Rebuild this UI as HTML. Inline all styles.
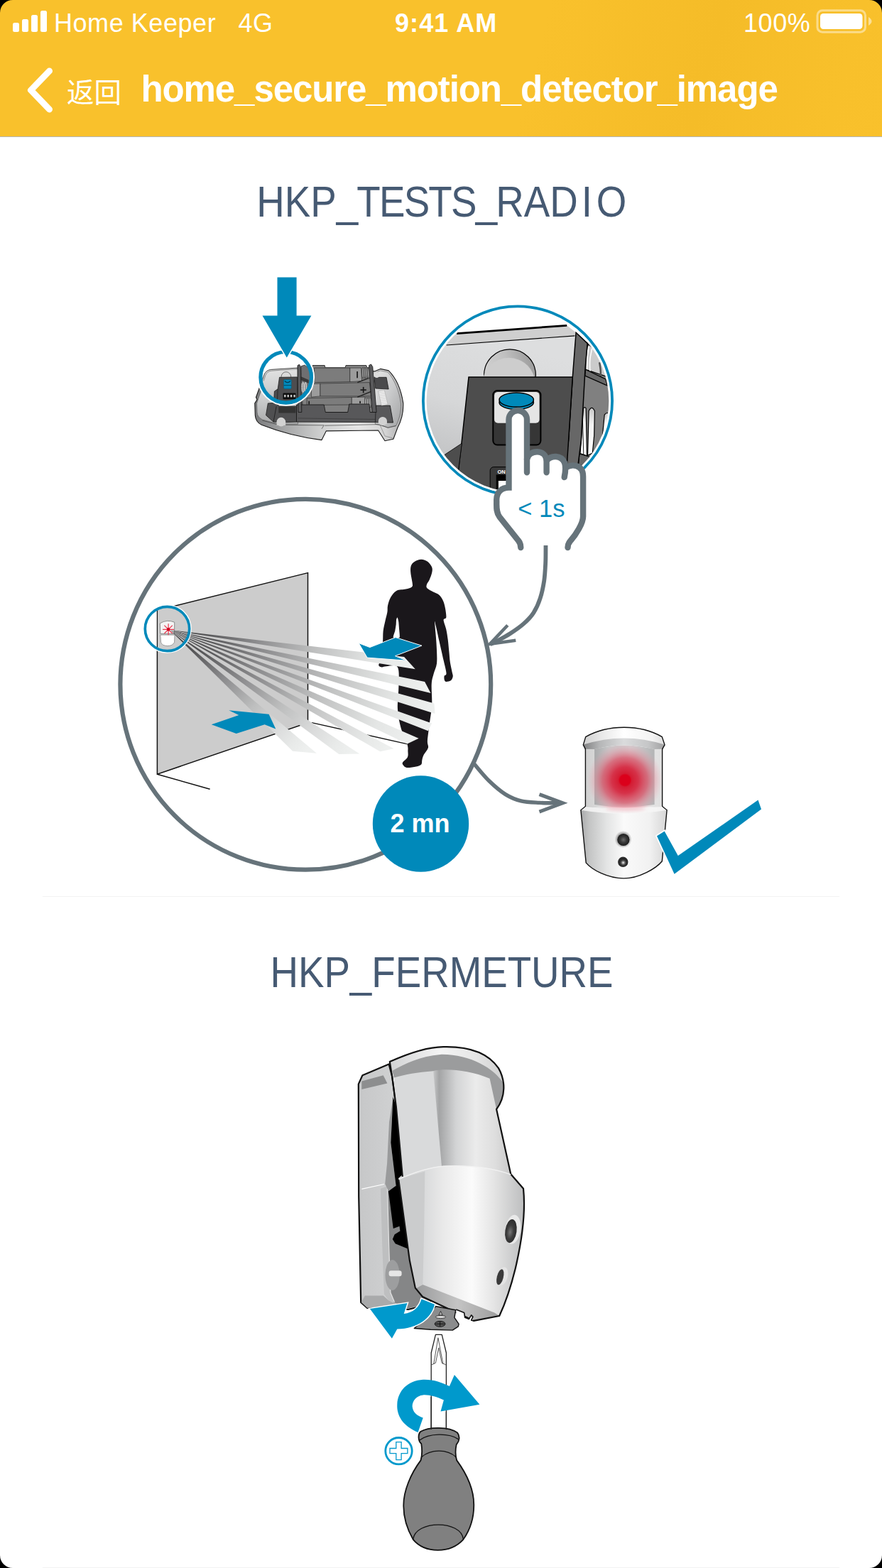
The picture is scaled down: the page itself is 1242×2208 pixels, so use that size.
<!DOCTYPE html>
<html lang="zh">
<head>
<meta charset="utf-8">
<title>home_secure_motion_detector_image</title>
<style>
html,body{margin:0;padding:0;}
html{width:1242px;height:2208px;overflow:hidden;}
body{width:1242px;height:2208px;position:relative;overflow:hidden;background:#fff;font-family:"Liberation Sans","Noto Sans CJK SC",sans-serif;}
.hdr{position:absolute;left:0;top:0;width:1242px;height:192px;background:#f9c12c linear-gradient(105deg,#f9c12c 0%,#f9c12c 60%,#f5bc28 79%,#f8c02b 94%,#f9c12c 100%);border-bottom:1px solid #b4b4b4;}
.st{position:absolute;top:11px;height:44px;line-height:44px;font-size:36px;color:#fff;white-space:nowrap;letter-spacing:0.55px;}
.title{position:absolute;left:198.5px;top:93px;height:66px;line-height:66px;font-size:51px;font-weight:bold;color:#fff;white-space:nowrap;letter-spacing:-1.1px;}
.back{position:absolute;left:94px;top:98px;height:66px;line-height:66px;font-size:38.5px;color:#fff;white-space:nowrap;}
.h{position:absolute;left:1px;width:1242px;text-align:center;font-size:61.8px;transform:scaleX(0.885);transform-origin:621px 50%;color:#465a73;white-space:nowrap;height:80px;line-height:80px;}
.sep{position:absolute;left:60px;width:1122px;height:1px;background:#f3f3f3;}
.art{position:absolute;left:0;top:0;width:1242px;height:2208px;}

</style>
</head>
<body>
<div class="hdr">
  <svg style="position:absolute;left:0;top:0" width="1242" height="192" viewBox="0 0 1242 192">
    <g fill="#fff">
      <rect x="18" y="32" width="9" height="13" rx="2.5"/>
      <rect x="31" y="27" width="9" height="18" rx="2.5"/>
      <rect x="44" y="21" width="9" height="24" rx="2.5"/>
      <rect x="57" y="15" width="9" height="30" rx="2.5"/>
    </g>
    <rect x="1151" y="14.8" width="67.5" height="30.4" rx="7" fill="none" stroke="#fff" stroke-opacity="0.45" stroke-width="3"/>
    <rect x="1155" y="19" width="59.5" height="22" rx="4.5" fill="#fff"/>
    <path d="M1223 24 q4.5 3 4.5 6 q0 3 -4.5 6 z" fill="#fff" fill-opacity="0.5"/>
    <path d="M69.5 100 L43.5 127 L69.5 154" fill="none" stroke="#fff" stroke-width="9" stroke-linecap="round" stroke-linejoin="round"/>
  </svg>
  <div class="st" style="left:76px">Home Keeper</div>
  <div class="st" style="left:335.5px">4G</div>
  <div class="st" style="left:556px;font-weight:bold;letter-spacing:1.1px">9:41 AM</div>
  <div class="st" style="left:1047px">100%</div>
  <div class="back">返回</div>
  <div class="title">home_secure_motion_detector_image</div>
</div>
<svg class="art" viewBox="0 0 1242 2208"><text id="h1" transform="translate(361.2 304.6) scale(0.885 1)" x="0" y="0" dx="0 0 0 0 -2 -2 -2 -2 -2 -2 -2 0 0 5.5 6.5" font-family="'Liberation Sans',sans-serif" font-size="61.8" fill="#465a73">HKP_TESTS_RADIO</text></svg>
<div class="sep" style="top:1262px"></div>
<div class="h" id="h2" style="top:1328.7px">HKP_FERMETURE</div>
<div class="sep" style="top:2207px"></div>
<svg class="art" viewBox="0 0 1242 2208">
<defs><filter id="blur2" x="-50%" y="-50%" width="200%" height="200%"><feGaussianBlur stdDeviation="2.5"/></filter></defs>
<defs>
<linearGradient id="bmA" gradientUnits="userSpaceOnUse" x1="239.5" y1="887.2" x2="577" y2="933.6"><stop offset="0" stop-color="#343436"/><stop offset="0.13" stop-color="#505052"/><stop offset="0.35" stop-color="#8a8a8c"/><stop offset="0.6" stop-color="#bebfbf"/><stop offset="0.85" stop-color="#e4e6e5"/><stop offset="1" stop-color="#eef0ef"/></linearGradient>
<linearGradient id="bmB" gradientUnits="userSpaceOnUse" x1="239.5" y1="887.2" x2="602.3" y2="968"><stop offset="0" stop-color="#343436"/><stop offset="0.13" stop-color="#505052"/><stop offset="0.35" stop-color="#8a8a8c"/><stop offset="0.6" stop-color="#bebfbf"/><stop offset="0.85" stop-color="#e4e6e5"/><stop offset="1" stop-color="#eef0ef"/></linearGradient>
<linearGradient id="bmC" gradientUnits="userSpaceOnUse" x1="239.5" y1="887.2" x2="612" y2="997.9"><stop offset="0" stop-color="#343436"/><stop offset="0.13" stop-color="#505052"/><stop offset="0.35" stop-color="#8a8a8c"/><stop offset="0.6" stop-color="#bebfbf"/><stop offset="0.85" stop-color="#e4e6e5"/><stop offset="1" stop-color="#eef0ef"/></linearGradient>
<linearGradient id="bmD" gradientUnits="userSpaceOnUse" x1="239.5" y1="887.2" x2="605.5" y2="1024"><stop offset="0" stop-color="#343436"/><stop offset="0.13" stop-color="#505052"/><stop offset="0.35" stop-color="#8a8a8c"/><stop offset="0.6" stop-color="#bebfbf"/><stop offset="0.85" stop-color="#e4e6e5"/><stop offset="1" stop-color="#eef0ef"/></linearGradient>
<linearGradient id="bmE" gradientUnits="userSpaceOnUse" x1="239.5" y1="887.2" x2="581.5" y2="1043.7"><stop offset="0" stop-color="#343436"/><stop offset="0.13" stop-color="#505052"/><stop offset="0.35" stop-color="#8a8a8c"/><stop offset="0.6" stop-color="#bebfbf"/><stop offset="0.85" stop-color="#e4e6e5"/><stop offset="1" stop-color="#eef0ef"/></linearGradient>
<linearGradient id="bmF" gradientUnits="userSpaceOnUse" x1="239.5" y1="887.2" x2="545" y2="1056.2"><stop offset="0" stop-color="#343436"/><stop offset="0.15" stop-color="#505052"/><stop offset="0.4" stop-color="#8c8c8e"/><stop offset="0.62" stop-color="#bdbebe"/><stop offset="0.8" stop-color="#dadbdb"/><stop offset="0.92" stop-color="#e8eae9"/><stop offset="1" stop-color="#eef0ef"/></linearGradient>
<linearGradient id="bmG" gradientUnits="userSpaceOnUse" x1="239.5" y1="887.2" x2="491.8" y2="1061.7"><stop offset="0" stop-color="#343436"/><stop offset="0.15" stop-color="#505052"/><stop offset="0.4" stop-color="#8c8c8e"/><stop offset="0.62" stop-color="#bdbebe"/><stop offset="0.8" stop-color="#dadbdb"/><stop offset="0.92" stop-color="#e8eae9"/><stop offset="1" stop-color="#eef0ef"/></linearGradient>
<linearGradient id="bmH" gradientUnits="userSpaceOnUse" x1="239.5" y1="887.2" x2="429" y2="1059.2"><stop offset="0" stop-color="#343436"/><stop offset="0.15" stop-color="#505052"/><stop offset="0.4" stop-color="#8c8c8e"/><stop offset="0.62" stop-color="#bdbebe"/><stop offset="0.8" stop-color="#dadbdb"/><stop offset="0.92" stop-color="#e8eae9"/><stop offset="1" stop-color="#eef0ef"/></linearGradient>
<clipPath id="bigc"><circle cx="430.2" cy="962.2" r="262"/></clipPath>
</defs>
<g id="scene">
<circle cx="430.3" cy="963.8" r="260.9" fill="#fff" stroke="#66737a" stroke-width="6.2"/>
<polygon points="221.4,859.4 433.5,806.6 433.5,1017.6 221.4,1090.2" fill="#cccccc" stroke="#111" stroke-width="1.5" stroke-linejoin="miter"/>
<path d="M221.4 1090.2 L295.6 1111.2" stroke="#111" stroke-width="1.5" fill="none"/>
<path d="M439 1017.6 L573 1047.6" stroke="#111" stroke-width="1.4" fill="none"/>
<path d="M593.2 787.7 C596.4 787.7 599.9 789 602.4 790.9 C604.9 792.7 607.2 796.2 608.2 798.8 C609.2 801.5 608.8 803.7 608.2 806.6 C607.6 809.5 606 813.5 604.8 816.2 C603.6 819 601.5 821 601 823 C600.4 825 599.9 826.5 601.4 828.3 C603 830.1 607.3 832 610.1 833.6 C613 835.2 616.3 835.8 618.6 838 C620.9 840.1 622.7 843.2 624.2 846.4 C625.6 849.6 626.4 853.5 627.1 857.3 C627.7 861.1 628.7 866.8 628.3 869.4 C627.9 872 624.6 870.2 624.6 873 C624.6 875.8 627.3 881.7 628.3 886.3 C629.3 890.9 630 895.5 630.7 900.8 C631.4 906 631.8 912.4 632.4 917.7 C632.9 922.9 633.1 927.3 633.8 932.2 C634.5 937 636.1 943.2 636.7 946.7 C637.4 950.1 638 950.8 637.7 952.7 C637.4 954.6 636.4 957.1 634.8 958.3 C633.2 959.5 629.8 960.1 628.3 960 C626.8 959.8 626.3 958.9 625.8 957.5 C625.4 956.2 625.2 953.6 625.6 952 C626 950.4 628.7 951.6 628.5 947.9 C628.3 944.2 626.3 937.2 624.6 929.8 C623 922.3 620.4 911.2 618.6 903.2 C616.8 895.1 614.9 886.1 613.8 881.4 C612.7 876.8 612.1 873 612.1 875.4 C612.1 877.8 613.3 889.3 613.8 895.9 C614.3 902.6 614.8 908.8 615 915.3 C615.2 921.7 615.7 929 615 934.6 C614.3 940.2 611.8 944.3 610.6 949.1 C609.4 953.9 608.1 956.3 607.7 963.6 C607.3 970.8 608.7 983.3 608.2 992.6 C607.7 1001.8 605.9 1010.7 604.8 1019.1 C603.8 1027.6 602.3 1037.6 601.9 1043.3 C601.6 1048.9 603.7 1049.7 602.9 1052.9 C602.1 1056.2 598.3 1059.8 596.9 1062.6 C595.5 1065.4 595 1067.5 594.4 1069.9 C593.8 1072.2 594.6 1075 593.2 1076.6 C591.8 1078.2 589.4 1078.8 586 1079.5 C582.6 1080.2 575.7 1081.3 572.7 1081 C569.7 1080.6 568.8 1078.8 567.9 1077.6 C566.9 1076.3 566.1 1075.4 567.1 1073.5 C568.2 1071.6 572.7 1068.8 573.9 1066.2 C575.1 1063.6 574.5 1060.8 574.4 1057.8 C574.3 1054.8 575.1 1053.8 573.4 1048.1 C571.7 1042.5 566.5 1032.4 564.3 1024 C562 1015.5 560.4 1007.1 559.9 997.4 C559.4 987.7 561.4 975.7 561.4 966 C561.4 956.3 562.7 944 559.9 939.4 C557.1 934.8 548.1 938.2 544.4 938.2 C540.7 938.2 539.5 939.6 537.7 939.4 C535.8 939.2 533.7 938.6 533.3 937 C532.9 935.4 534.3 935 535.3 929.8 C536.2 924.5 538.2 912.4 538.9 905.6 C539.6 898.8 539 893.9 539.6 888.7 C540.2 883.5 541.5 878.6 542.5 874.2 C543.5 869.8 544.8 865.7 545.4 862.1 C546 858.5 545.3 856 546.1 852.5 C546.9 848.9 548.2 844.3 550.2 840.9 C552.3 837.4 554.7 833.8 558.2 831.9 C561.8 830 567.9 830.4 571.5 829.5 C575.1 828.6 578.4 827.8 580 826.4 C581.5 825 581 824.4 580.7 821.1 C580.4 817.8 578.6 810.6 578.3 806.6 C577.9 802.5 577.9 799.5 578.7 796.9 C579.6 794.3 581.2 792.4 583.6 790.9 C586 789.3 590.1 787.7 593.2 787.7 Z" fill="#1a171b"/>
<path d="M559.7 869.6 C560 870 561 874.1 561.3 875.8 C561.5 877.6 562 884.9 562.2 887.1 C562.3 889.3 563.4 896.8 562.6 897.8 C561.8 898.8 554.4 898.4 553.8 897.5 C553.2 896.5 555.9 890 556.3 888.2 C556.7 886.4 557.5 880.8 557.7 879.2 C557.8 877.6 557.9 873.4 558.1 872.4 C558.3 871.5 559.4 869.3 559.7 869.6 Z" fill="#fff"/>
<polygon points="239.5,887.2 569.1,924.9 584.8,942.3" fill="url(#bmA)"/>
<polygon points="239.5,887.2 598.1,960 606.5,976.1" fill="url(#bmB)"/>
<polygon points="239.5,887.2 611.4,990.6 612.6,1005.1" fill="url(#bmC)"/>
<polygon points="239.5,887.2 608.2,1018.6 602.9,1029.3" fill="url(#bmD)"/>
<polygon points="239.5,887.2 589.6,1039.7 573.4,1047.6" fill="url(#bmE)"/>
<polygon points="239.5,887.2 554.6,1054.2 535.3,1058.3" fill="url(#bmF)"/>
<polygon points="239.5,887.2 506.3,1061.4 477.3,1061.9" fill="url(#bmG)"/>
<polygon points="239.5,887.2 445.9,1060.7 412.1,1057.8" fill="url(#bmH)"/>
<polygon points="297.7,1020.3 336.3,1007.1 322.3,1000.3 378.6,1005.8 388.3,1026.4 372.6,1020.3 332.7,1033.1" fill="#0089ba"/>
<polygon points="505.1,905.6 520.8,911.6 557,897.6 594,909.2 556.5,923.7 572.7,930.2 517.1,926.1" fill="#0089ba" stroke="#fff" stroke-width="1" stroke-linejoin="round"/>
<clipPath id="smc"><circle cx="235.7" cy="885.6" r="31.5"/></clipPath>
<g clip-path="url(#smc)">
<rect x="200" y="850" width="21.4" height="72" fill="#fff"/>
<rect x="221.4" y="850" width="60" height="72" fill="#cccccc"/>
<path d="M221.4 850 L221.4 925" stroke="#111" stroke-width="1.2" fill="none"/>
<path d="M225.3 877.8 Q235.1 871.8 245.7 876.2 L245.6 892.3 L225.8 892.3 Z" fill="#f4f4f4" stroke="#777" stroke-width="0.8"/>
<path d="M225.8 894.1 L246 894.1 L245.6 904.4 Q243.1 909.6 235.9 909.6 Q227.8 909.2 226.6 904.4 Z" fill="#fff" stroke="#888" stroke-width="0.8"/>
<polygon points="239.5,887.2 569.1,924.9 584.8,942.3" fill="url(#bmA)"/>
<polygon points="239.5,887.2 598.1,960 606.5,976.1" fill="url(#bmB)"/>
<polygon points="239.5,887.2 611.4,990.6 612.6,1005.1" fill="url(#bmC)"/>
<polygon points="239.5,887.2 608.2,1018.6 602.9,1029.3" fill="url(#bmD)"/>
<polygon points="239.5,887.2 589.6,1039.7 573.4,1047.6" fill="url(#bmE)"/>
<polygon points="239.5,887.2 554.6,1054.2 535.3,1058.3" fill="url(#bmF)"/>
<polygon points="239.5,887.2 506.3,1061.4 477.3,1061.9" fill="url(#bmG)"/>
<polygon points="239.5,887.2 445.9,1060.7 412.1,1057.8" fill="url(#bmH)"/>
<path d="M237.1 886.3 L237.1 894.3" stroke="#e8384f" stroke-width="1.2" fill="none"/>
<path d="M237.1 886.3 L231.4 892" stroke="#e8384f" stroke-width="1.2" fill="none"/>
<path d="M237.1 886.3 L229.1 886.3" stroke="#e8384f" stroke-width="1.2" fill="none"/>
<path d="M237.1 886.3 L231.4 880.6" stroke="#e8384f" stroke-width="1.2" fill="none"/>
<path d="M237.1 886.3 L237.1 878.3" stroke="#e8384f" stroke-width="1.2" fill="none"/>
<path d="M237.1 886.3 L242.8 880.6" stroke="#e8384f" stroke-width="1.2" fill="none"/>
<path d="M237.1 886.3 L245.1 886.3" stroke="#e8384f" stroke-width="1.2" fill="none"/>
<path d="M237.1 886.3 L242.8 892" stroke="#e8384f" stroke-width="1.2" fill="none"/>
<circle cx="237.1" cy="886.3" r="2.3" fill="#d4001e"/>
</g>
<circle cx="235.5" cy="885.5" r="33.2" stroke="#fff" stroke-width="2.2" fill="none"/>
<circle cx="235.5" cy="885.5" r="31.2" stroke="#0089ba" stroke-width="3.7" fill="none"/>
</g>
<circle cx="592.5" cy="1160" r="67.7" fill="#0089ba"/>
<text x="591.5" y="1172.2" text-anchor="middle" font-family="'Liberation Sans',sans-serif" font-weight="bold" font-size="36" fill="#fff">2 mn</text>
<defs>
<linearGradient id="rim" gradientUnits="userSpaceOnUse" x1="358.8" y1="0" x2="568.2" y2="0"><stop offset="0" stop-color="#77787a"/><stop offset="0.2" stop-color="#a5a6a7"/><stop offset="0.45" stop-color="#cfd0d0"/><stop offset="0.7" stop-color="#e6e6e6"/><stop offset="0.88" stop-color="#d4d4d4"/><stop offset="1" stop-color="#a9a9aa"/></linearGradient>
<linearGradient id="shin" x1="0" y1="0" x2="0" y2="1"><stop offset="0" stop-color="#e3e3e3"/><stop offset="0.5" stop-color="#cfd0d1"/><stop offset="1" stop-color="#a9aaab"/></linearGradient>
<linearGradient id="shinr" x1="0" y1="0" x2="1" y2="1"><stop offset="0" stop-color="#e6e6e6"/><stop offset="0.5" stop-color="#c9cacb"/><stop offset="1" stop-color="#a2a3a4"/></linearGradient>
<clipPath id="bcirc"><circle cx="402.7" cy="531.3" r="35.8"/></clipPath>
</defs>
<g id="batt" stroke-linejoin="round">
<path d="M371.4 529.2 Q374.5 522.9 381.9 521.9 L419.5 518.1 L527.4 522.9 L535.7 519.4 L547.2 521.9 C557.7 532.3 565 549.1 567.8 567.9 C568.2 580.5 565 593 559.8 602.5 L553.9 618.2 L542 620.7 L532.6 606 L459.3 606.9 L453 619.6 C423.7 616.1 392.3 607.7 368.3 598.3 Q359.9 594.1 359.3 584.7 L358.8 567.9 L362 562.7 L360.5 559.5 Z" fill="url(#rim)" stroke="#1a1a1a" stroke-width="1.1"/>
<path d="M374.5 530.2 Q376.6 525 382.9 524 L419.5 520.2 L419.5 597.2 L392.3 597.2 L369.3 590.9 Q362 586.8 362 580.5 L361.6 567.9 Z" fill="url(#shin)" stroke="#555" stroke-width="0.6"/>
<path d="M527.4 525 L535.7 521.9 L546.2 524 C555.6 534.4 562.3 551.2 564.4 567.9 C565 580.5 561.9 590.9 557.7 599.3 L546.2 601.8 L528.4 597.2 Z" fill="url(#shinr)" stroke="#555" stroke-width="0.6"/>
<path d="M369.3 592 L392.3 598.3 L456.2 598.9 L453 603.9" stroke="#333" stroke-width="0.6" fill="none"/>
<path d="M457.2 599.3 L534.7 597.6 L546.2 602.5 L557.7 599.7" stroke="#333" stroke-width="0.6" fill="none"/>
<path d="M534.7 597.6 L542 614 L553.9 617.1" stroke="#666" stroke-width="0.5" fill="none"/>
<polygon points="377.3,567.9 391.3,566.9 392.3,572.1 417.5,572.1 417.5,594.1 400.7,594.7 385,594.1 374.5,584.7" fill="#4f4f51" stroke="#111" stroke-width="0.7"/>
<polygon points="392.3,573.2 416.4,573.2 416.4,581.5 392.3,581.5" fill="#333"/>
<path d="M385 594.1 L389.2 572.1" stroke="#111" stroke-width="0.7" fill="none"/>
<polygon points="425.8,518.1 439.4,517.7 440.1,514.5 457.2,514.5 457.9,517.7 486.1,517.7 487,514.5 515.8,514.5 516.9,517.7 522.1,517.7 528.4,580.5 425.8,580.5" fill="#808080" stroke="#111" stroke-width="0.8"/>
<polygon points="442.6,518.1 492.8,518.1 492.8,537.6 442.6,538.6" fill="#7c7c7c" stroke="#222" stroke-width="0.6"/>
<polygon points="492.8,518.1 508.5,518.1 509.6,536.5 492.8,537.6" fill="#9c9c9c" stroke="#222" stroke-width="0.6"/>
<polygon points="438.4,540.7 450.9,540.1 450.9,557.9 438.4,559.1" fill="#9c9c9c" stroke="#222" stroke-width="0.6"/>
<polygon points="450.9,540.1 520.4,538.6 522.5,557.9 450.9,557.9" fill="#7c7c7c" stroke="#222" stroke-width="0.6"/>
<polygon points="432.1,560.6 495.3,559.5 495.3,570 432.1,570.4" fill="#7c7c7c" stroke="#222" stroke-width="0.6"/>
<polygon points="495.3,559.5 513.7,559.1 514.8,570 495.3,570" fill="#9c9c9c" stroke="#222" stroke-width="0.6"/>
<path d="M503.3 538.6 L522.1 531.3" stroke="#222" stroke-width="1.4" fill="none"/>
<path d="M503.3 559.1 L523.2 551.2" stroke="#222" stroke-width="1.4" fill="none"/>
<ellipse cx="511.2" cy="525" rx="1.7" ry="8" stroke="#333" stroke-width="0.8" fill="#999"/>
<ellipse cx="514" cy="525" rx="1.7" ry="8" stroke="#333" stroke-width="0.8" fill="#999"/>
<ellipse cx="516.7" cy="525" rx="1.7" ry="8" stroke="#333" stroke-width="0.8" fill="#999"/>
<ellipse cx="519.4" cy="525" rx="1.7" ry="8" stroke="#333" stroke-width="0.8" fill="#999"/>
<ellipse cx="515.4" cy="566.9" rx="1.7" ry="7.5" stroke="#333" stroke-width="0.8" fill="#aaa"/>
<ellipse cx="518.1" cy="566.9" rx="1.7" ry="7.5" stroke="#333" stroke-width="0.8" fill="#aaa"/>
<ellipse cx="520.9" cy="566.9" rx="1.7" ry="7.5" stroke="#333" stroke-width="0.8" fill="#aaa"/>
<ellipse cx="523.6" cy="566.9" rx="1.7" ry="7.5" stroke="#333" stroke-width="0.8" fill="#aaa"/>
<ellipse cx="424.8" cy="547" rx="1.7" ry="7.5" stroke="#333" stroke-width="0.8" fill="#aaa"/>
<ellipse cx="427.7" cy="547" rx="1.7" ry="7.5" stroke="#333" stroke-width="0.8" fill="#aaa"/>
<ellipse cx="430.6" cy="547" rx="1.7" ry="7.5" stroke="#333" stroke-width="0.8" fill="#aaa"/>
<polygon points="417.5,570 425.8,570 456.2,570 458.3,580.5 489.7,580.5 491.8,569 520,569 521.1,580.5 528.4,580.5 529.4,571.1 549.3,571.1 553.5,595.1 529.4,594.7 417.5,594.1" fill="#58585a" stroke="#111" stroke-width="0.8"/>
<path d="M529.4 571.1 L528.4 594.7" stroke="#111" stroke-width="0.7" fill="none"/>
<path d="M419.5 588.9 L528.4 590.5" stroke="#333" stroke-width="0.6" fill="none"/>
<g stroke="#1a1a1a" stroke-width="1.7" fill="none">
<path d="M503.1 522.9 L503.1 532.3" fill="none"/>
<path d="M507.5 549.1 L515.8 549.1" fill="none"/>
<path d="M511.7 544.9 L511.7 553.3" fill="none"/>
<path d="M507.1 564.8 L507.1 567.9" fill="none"/>
<path d="M435.2 564.8 L435.2 569.6" fill="none"/>
<path d="M432.1 528.6 L435.2 528.6" fill="none"/>
</g>
<polygon points="419.1,514.5 422.1,513.1 423.7,516.6 424.8,580.5 420,580.5" fill="#5a5a5c" stroke="#111" stroke-width="0.8"/>
<polygon points="519.6,514.5 522.5,512.9 524.8,516.6 530.1,580.5 524.2,580.5" fill="#5a5a5c" stroke="#111" stroke-width="0.8"/>
<polygon points="526.9,531.3 544.1,531.3 547.2,548 528.8,547" fill="#4a4a4c" stroke="#111" stroke-width="0.7"/>
<polygon points="532.6,550.8 541.4,549.5 546.2,569.6 537.2,571.1" fill="#f4f4f4" stroke="#999" stroke-width="0.5"/>
<path d="M533.2 552.8 L542.2 551.8" stroke="#bdbdbd" stroke-width="0.7" fill="none"/>
<path d="M533.7 555.2 L542.7 554.1" stroke="#bdbdbd" stroke-width="0.7" fill="none"/>
<path d="M534.3 557.5 L543.3 556.4" stroke="#bdbdbd" stroke-width="0.7" fill="none"/>
<path d="M534.8 559.8 L543.8 558.7" stroke="#bdbdbd" stroke-width="0.7" fill="none"/>
<path d="M535.3 562.1 L544.3 561" stroke="#bdbdbd" stroke-width="0.7" fill="none"/>
<path d="M535.8 564.4 L544.8 563.3" stroke="#bdbdbd" stroke-width="0.7" fill="none"/>
<path d="M536.4 566.7 L545.4 565.6" stroke="#bdbdbd" stroke-width="0.7" fill="none"/>
<path d="M536.9 569 L545.9 567.9" stroke="#bdbdbd" stroke-width="0.7" fill="none"/>
<circle cx="538.9" cy="593" r="6.1" fill="#d2d2d2"/>
<polygon points="532.8,593 544.9,593 544.9,597.2 532.8,597.2" fill="#d2d2d2"/>
<circle cx="395.9" cy="594.1" r="6.3" fill="#d2d2d2"/>
<polygon points="389.6,594.1 402.2,594.1 402.2,598.9 389.6,598.9" fill="#d2d2d2"/>
<circle cx="530.5" cy="527.7" r="4.2" fill="#dcdcdc"/>
</g>
<circle cx="402.7" cy="531.3" r="38" fill="#fff"/>
<g clip-path="url(#bcirc)">
<path d="M369.5 534.9 L372.3 526.9 Q375.1 521.2 381.6 520.4 L419.4 518 L419.4 573.6 L363.1 573.6 L363.1 549.4 Z" fill="url(#shin)" stroke="#111" stroke-width="0.8"/>
<path d="M371.1 536.5 L373.9 528.5 Q376.3 522.8 382 522.2 L419.4 519.6" stroke="#555" stroke-width="0.6" fill="none"/>
<circle cx="402.9" cy="530.5" r="6.8" fill="#dadada" stroke="#333" stroke-width="0.6"/>
<polygon points="393.5,531.3 418.6,530.9 419.4,565.5 385.6,565.5 386.4,551 391.2,547.8" fill="#4d4d4f" stroke="#111" stroke-width="0.7"/>
<path d="M391.2 547.8 L390.4 565.5" stroke="#111" stroke-width="0.6" fill="none"/>
<rect x="399.4" y="534.5" width="10.9" height="12.9" rx="1.5" fill="#0089ba" stroke="#0a5a78" stroke-width="0.6"/>
<path d="M399.6 542.6 L410.2 542.6" stroke="#0a4860" stroke-width="1" fill="none"/>
<path d="M400.9 536.5 Q404.9 540.6 408.9 536.5" stroke="#063a50" stroke-width="1.2" fill="none"/>
<rect x="398.5" y="553.4" width="18.1" height="8.9" rx="1" fill="#0c0c0c"/>
<rect x="400.1" y="555.9" width="2.4" height="3.4" fill="#c8c8c8"/>
<rect x="404.5" y="555.9" width="2.4" height="3.4" fill="#c8c8c8"/>
<rect x="408.9" y="555.9" width="2.4" height="3.4" fill="#c8c8c8"/>
<rect x="413.4" y="555.9" width="2.4" height="3.4" fill="#c8c8c8"/>
<polygon points="424.2,515.6 429.1,514 443.6,525.3 443.6,557.5 423.4,565.5" fill="#6f6f71" stroke="#111" stroke-width="0.6"/>
<polygon points="423.4,530.1 434.7,534.9 434.7,539.8 423.4,534.9" fill="#3a3a3a"/>
<ellipse cx="423" cy="545.4" rx="1.4" ry="7.2" stroke="#ddd" stroke-width="1" fill="#888"/>
<ellipse cx="426.7" cy="545.4" rx="1.4" ry="7.2" stroke="#ddd" stroke-width="1" fill="#888"/>
<ellipse cx="430.3" cy="545.4" rx="1.4" ry="7.2" stroke="#ddd" stroke-width="1" fill="#888"/>
<polygon points="419,514.8 421.4,513.2 423.4,516.4 424.4,573.6 419.4,573.6" fill="#5a5a5c" stroke="#111" stroke-width="0.8"/>
</g>
<circle cx="402.7" cy="531.3" r="39.3" stroke="#fff" stroke-width="2.2" fill="none"/>
<circle cx="402.7" cy="531.3" r="35.8" stroke="#0089ba" stroke-width="5.2" fill="none"/>
<polygon points="390.5,390.5 417.6,390.5 417.6,444.4 438.4,444.4 403.8,503.6 369.5,444.4 390.5,444.4" fill="#0089ba" stroke="#fff" stroke-width="3" paint-order="stroke" stroke-linejoin="miter"/>
<defs>
<clipPath id="zc"><circle cx="729" cy="564.4" r="133.6"/></clipPath>
<linearGradient id="zbg" gradientUnits="userSpaceOnUse" x1="700" y1="480" x2="640" y2="690"><stop offset="0" stop-color="#dddedf"/><stop offset="0.45" stop-color="#d6d7d8"/><stop offset="1" stop-color="#b9babc"/></linearGradient>
<linearGradient id="dome" x1="0" y1="0.6" x2="1" y2="0.3"><stop offset="0" stop-color="#d4d4d4"/><stop offset="0.5" stop-color="#c0c0c0"/><stop offset="1" stop-color="#9a9a9a"/></linearGradient>
<linearGradient id="spr" x1="0" y1="0" x2="1" y2="0"><stop offset="0" stop-color="#fff"/><stop offset="0.6" stop-color="#f0f0f0"/><stop offset="1" stop-color="#b8b8b8"/></linearGradient>
</defs>
<g id="zoomc">
<circle cx="729" cy="564.4" r="134.6" fill="#fff"/>
<g clip-path="url(#zc)">
<polygon points="643.1,469.6 798.2,458.3 811.1,468.3 809.5,472.8 628.6,486 606.1,487.6" fill="#cfcfcf"/>
<polygon points="590,488.4 628.6,486 809.5,472.8 811.1,531.1 590,629.3 580,700" fill="url(#zbg)"/>
<polygon points="590,560 660,560 660,700 590,700" fill="url(#zbg)"/>
<path d="M643.1 469.6 L798.2 458.3" stroke="#000" stroke-width="2.8" fill="none"/>
<path d="M628.6 486 L809.5 472.8" stroke="#000" stroke-width="1.2" fill="none"/>
<circle cx="718" cy="528.2" r="36.4" fill="url(#dome)" stroke="#000" stroke-width="1.2"/>
<circle cx="716.5" cy="541.2" r="37.4" fill="#cdcdcd" clip-path="url(#domeclip)"/>
<polygon points="825.6,481.2 877.1,481.2 877.1,645.4 815.9,645.4" fill="#808080"/>
<polygon points="828,484.4 861,510.2 861,532.7 825.6,520.6" fill="#cbcbcb" stroke="#000" stroke-width="1.3"/>
<path d="M828.8 487.6 C828.5 490.3 827.3 498.2 826.9 503.7 C826.5 509.2 826.5 517.8 826.4 520.6" stroke="#fff" stroke-width="2" fill="none"/>
<path d="M833.7 490.9 C833.2 493.5 831.2 501.6 830.8 507 C830.3 512.3 830.8 520.4 830.8 523.1" stroke="#fff" stroke-width="1.5" fill="none"/>
<path d="M844.1 510.2 C844.4 512.1 845.5 518 845.7 521.4 C846 524.9 845.7 529.5 845.7 531.1" stroke="#555" stroke-width="2.5" fill="none"/>
<polygon points="824.3,520.2 853,534 855.4,543.2 823.7,529.2" fill="#676767" stroke="#000" stroke-width="1.3"/>
<linearGradient id="spr2" x1="0" y1="0" x2="0" y2="1"><stop offset="0" stop-color="#c8c8c8"/><stop offset="0.35" stop-color="#f4f4f4"/><stop offset="1" stop-color="#ffffff"/></linearGradient>
<path d="M817 638.6 L821.5 575 Q823.5 572.3 825.2 575 L826.5 641.8 Z" fill="url(#spr2)" stroke="#000" stroke-width="1.2"/>
<path d="M820.4 591.3 L821.8 640.2" stroke="#000" stroke-width="0.9" fill="none"/>
<path d="M827.6 641.3 L829.1 578.8 Q833.3 570.1 837.4 578.8 L836.7 613 L834.3 638 Z" fill="url(#spr2)" stroke="#000" stroke-width="1.2"/>
<path d="M847.4 623.9 L851.2 584.2 Q855 578.8 859.3 584.2 L859.3 623.9 Z" fill="url(#spr2)" stroke="#000" stroke-width="1.2"/>
<polygon points="815.9,639.1 831.1,643.5 823.5,656.5 814.8,654.3" fill="#676767" stroke="#000" stroke-width="1"/>
<polygon points="811.1,468.3 827.2,483.6 824,519.8 818.4,620 812.7,664.4 795,664.4 800.6,620 806.3,531.1" fill="#676767" stroke="#000" stroke-width="1.5"/>
<polygon points="660,531.1 806.3,531.1 800.6,620 796.6,680.5 638.3,712.7 645.6,661.2 650.4,620" fill="#4d4d4d" stroke="#000" stroke-width="1.5"/>
<polygon points="626.2,640.3 650.4,624.2 645.6,661.2 643.1,696.6 622.2,696.6" fill="#4d4d4d" stroke="#000" stroke-width="0.8"/>
<rect x="690.2" y="657.6" width="30" height="40" rx="5" fill="#3a3a3a" stroke="#000" stroke-width="1"/>
<rect x="698.7" y="668.4" width="22" height="30" fill="#000"/>
<rect x="701.9" y="677" width="12" height="14" fill="#fff"/>
<text x="700.5" y="666.7" font-family="'Liberation Sans',sans-serif" font-weight="bold" font-size="7.5" fill="#fff">ON</text>
<rect x="694.3" y="550.1" width="67.1" height="76.5" rx="6" fill="#363636" stroke="#000" stroke-width="2"/>
<rect x="696.1" y="551.9" width="63.5" height="43.9" rx="5" fill="#e5e5e5"/>
<ellipse cx="727.2" cy="566.5" rx="24.2" ry="10" fill="#0089ba" stroke="#000" stroke-width="1.5"/>
<ellipse cx="727.2" cy="563" rx="24.2" ry="10" fill="#0089ba" stroke="#000" stroke-width="1.5"/>
</g>
<circle cx="729" cy="564.4" r="130" stroke="#fff" stroke-width="3.4" fill="none"/>
<circle cx="729" cy="564.4" r="133.1" stroke="#0089ba" stroke-width="3.8" fill="none"/>
</g>
<g id="hand" fill="none" stroke="#66737a" stroke-width="8.4" stroke-linecap="round" stroke-linejoin="round">
<path d="M 716.5 590.7 A 12.75 12.75 0 0 1 742 590.7 L 742 645.9 C 744.3 634.6 767.6 633 770.2 646.7 C 775.7 641.1 795 640.3 796.6 658.8 C 803.1 653.1 821.1 653.1 821.1 670.9 L 821.1 727.2 C 821.1 736.9 811.1 753 803.1 761.8 Q 799.5 765.9 799.5 771 L 733.3 771 Q 733.3 765.1 729.8 761 L 703.5 728 C 697.9 720.8 699.5 711.1 699.2 704.7 C 698.9 693.4 705.9 686.2 716.5 686.2 Z" fill="#fff" stroke="none"/>
<path d="M 799.5 771 Q 799.5 765.9 803.1 761.8 C 811.1 753 821.1 736.9 821.1 727.2 L 821.1 670.9 C 821.1 653.1 803.1 653.1 796.6 658.8 "/>
<path d="M 770.2 648.3 C 775.7 641.1 790.2 640.3 795 651.5 C 797.4 658 796.3 664.4 794.7 672.1 L 794.7 672.1"/>
<path d="M 742 646.7 C 744.3 633 769.6 631.4 769.6 649.9 L 769.6 665.2"/>
<path stroke-linejoin="miter" d="M 742 665.2 L 742 590.7 A 12.75 12.75 0 0 0 716.5 590.7 L 716.5 686.5 C 705.9 686.5 698.9 693.4 699.2 704.7 C 699.5 711.1 697.9 720.8 703.5 728 L 729.8 761 Q 733.3 765.1 733.3 771"/>
</g>
<text x="729.3" y="728" font-family="'Liberation Sans',sans-serif" font-size="34.5" fill="#0089ba">&lt; 1s</text>
<g id="arrows" fill="none" stroke="#66737a" stroke-linecap="butt">
<path d="M768.5 768 C768.4 772 768.6 783.9 768.2 792.2 C767.8 800.5 767.4 809.6 766.2 818 C764.9 826.3 763.2 834.9 760.7 842.4 C758.3 850 755 857.2 751.2 863.1 C747.4 869 743.4 873 737.9 877.9 C732.5 882.7 725.2 887.8 718.6 892 C712.1 896.3 703.4 900.7 698.6 903.3 C693.9 905.8 691.7 906.5 690.3 907.1" stroke-width="5.8"/>
<path d="M714.8 880.5 L689.9 906.9 L726.3 901.7" stroke-width="4.6" stroke-linejoin="miter" fill="none"/>
<path d="M668 1076.1 C671.5 1080 681.3 1092.4 688.6 1099.5 C695.9 1106.6 704.3 1113.9 711.8 1118.6 C719.4 1123.3 725.8 1125.9 733.7 1127.9 C741.7 1129.8 750.3 1129.9 759.5 1130.4 C768.7 1130.9 784.2 1130.8 789.1 1130.8" stroke-width="5.4"/>
<path d="M759.5 1118.6 L792.4 1130.8 L759.5 1143.1" stroke-width="5" stroke-linejoin="miter" fill="none"/>
</g>
<defs>
<linearGradient id="sbody" x1="0" y1="0" x2="1" y2="0"><stop offset="0" stop-color="#a9aaab"/><stop offset="0.1" stop-color="#c4c5c5"/><stop offset="0.3" stop-color="#e3e4e4"/><stop offset="0.5" stop-color="#fafafa"/><stop offset="0.8" stop-color="#f1f1f1"/><stop offset="1" stop-color="#d6d6d6"/></linearGradient>
<linearGradient id="scap" x1="0" y1="0" x2="1" y2="0"><stop offset="0" stop-color="#cfcfcf"/><stop offset="0.2" stop-color="#e6e6e6"/><stop offset="0.5" stop-color="#ffffff"/><stop offset="0.85" stop-color="#f3f3f3"/><stop offset="1" stop-color="#dddddd"/></linearGradient>
<linearGradient id="sband" x1="0" y1="0" x2="1" y2="0"><stop offset="0" stop-color="#7f8081"/><stop offset="0.2" stop-color="#b5b6b7"/><stop offset="0.5" stop-color="#dadbdc"/><stop offset="0.8" stop-color="#c5c6c7"/><stop offset="1" stop-color="#a0a0a1"/></linearGradient>
<linearGradient id="slens" x1="0" y1="0" x2="1" y2="0"><stop offset="0" stop-color="#a9aaab"/><stop offset="0.25" stop-color="#c7c8c9"/><stop offset="0.6" stop-color="#d2d3d4"/><stop offset="1" stop-color="#b3b4b5"/></linearGradient>
<linearGradient id="spil" x1="0" y1="0" x2="1" y2="0"><stop offset="0" stop-color="#d0d0d0"/><stop offset="0.5" stop-color="#ececec"/><stop offset="1" stop-color="#e0e0e0"/></linearGradient>
<radialGradient id="sred" cx="0.5" cy="0.5" r="0.5"><stop offset="0" stop-color="#db001b"/><stop offset="0.14" stop-color="#db001b"/><stop offset="0.18" stop-color="#d41c33"/><stop offset="0.35" stop-color="#d62a42" stop-opacity="0.95"/><stop offset="0.6" stop-color="#dc4a60" stop-opacity="0.7"/><stop offset="0.8" stop-color="#e87a8c" stop-opacity="0.35"/><stop offset="1" stop-color="#f0a0b0" stop-opacity="0"/></radialGradient>
<radialGradient id="scam" cx="0.5" cy="0.5" r="0.5"><stop offset="0" stop-color="#6a6a6a"/><stop offset="0.5" stop-color="#3a3a3a"/><stop offset="1" stop-color="#1c1c1c"/></radialGradient>
<radialGradient id="scam2" cx="0.5" cy="0.55" r="0.5"><stop offset="0" stop-color="#ffffff"/><stop offset="0.25" stop-color="#9a9a9a"/><stop offset="0.6" stop-color="#3a3a3a"/><stop offset="1" stop-color="#222"/></radialGradient>
<radialGradient id="scamring" cx="0.5" cy="0.5" r="0.5"><stop offset="0.7" stop-color="#999"/><stop offset="1" stop-color="#e8e8e8"/></radialGradient>
<clipPath id="sclip"><path d="M820 1040 H937 V1140 H941 V1160 H816 V1140 H820 Z"/></clipPath>
</defs>
<g id="sensor">
<polygon points="824.4,1052.8 932.6,1052.8 932.6,1136.4 824.4,1136.4" fill="url(#spil)"/>
<path d="M824.4 1052.8 L824.4 1135.8" stroke="#111" stroke-width="1.4" fill="none"/>
<path d="M932.6 1052.8 L932.6 1135.8" stroke="#111" stroke-width="1.4" fill="none"/>
<path d="M837.1 1055.1 Q878.8 1043.8 921.6 1055.1 L921.6 1133 Q878.8 1139.7 837.1 1133 Z" fill="url(#slens)"/>
<g clip-path="url(#sclip)">
<circle cx="880.1" cy="1098.6" r="53" fill="url(#sred)"/>
</g>
<path d="M817.9 1140.9 L824.7 1135.2 Q878.8 1140.3 932.3 1135.2 L939.1 1140.9 L932.3 1212.7 C923.9 1222.8 900.2 1236.9 878.2 1236.9 C856.2 1236.9 833.7 1225.1 825.2 1214.9 Z" fill="url(#sbody)"/>
<path d="M824.7 1135.2 L817.9 1140.9 L825.2 1214.9 C833.7 1225.1 856.2 1236.9 878.2 1236.9 C900.2 1236.9 923.9 1222.8 932.3 1212.7 L939.1 1140.9 L932.3 1135.2" stroke="#111" stroke-width="1.4" fill="none"/>
<path d="M818.6 1141.1 L824.8 1135.9 Q878.8 1140.9 932.2 1135.9 L938.4 1141.1 Q878.8 1150.5 818.6 1141.1 Z" fill="#f6f6f6" opacity="0.85"/>
<ellipse cx="881" cy="1138.6" rx="28.2" ry="3.2" fill="#f0a8b4" opacity="0.6" filter="url(#blur2)"/>
<path d="M821.3 1048.9 L824.7 1037.6 C843.8 1026.9 864.1 1024.3 878.8 1024.3 C893.4 1024.3 913.7 1026.9 932.3 1037.6 L936 1048.9 L932.6 1054.8 L921.6 1055.1 Q878.8 1043.8 837.1 1055.1 L824.4 1054.8 Z" fill="url(#sband)"/>
<path d="M821.6 1048.6 L824.9 1037.8 C843.8 1027.1 864.1 1024.5 878.8 1024.5 C893.4 1024.5 913.7 1027.1 932.1 1037.8 L935.7 1048.6 Q878.8 1030.3 821.6 1048.6 Z" fill="url(#scap)"/>
<path d="M824.4 1054.8 L821.3 1048.9 L824.7 1037.6 C843.8 1026.9 864.1 1024.3 878.8 1024.3 C893.4 1024.3 913.7 1026.9 932.3 1037.6 L936 1048.9 L932.6 1054.8" stroke="#111" stroke-width="1.4" fill="none"/>
<circle cx="877.4" cy="1182" r="11.3" fill="#c4c4c4"/>
<circle cx="877.4" cy="1182" r="11.3" fill="url(#scamring)"/>
<circle cx="877.9" cy="1182.5" r="8.6" fill="url(#scam)"/>
<circle cx="877.3" cy="1213.8" r="7.2" fill="#2e2e2e"/>
<circle cx="877.6" cy="1214.2" r="6.1" fill="url(#scam2)"/>
</g>
<polygon points="925,1177.3 935.7,1170.5 954.8,1205 1067.5,1126.6 1072,1139.5 949.6,1230.8" fill="#0089ba" stroke="#fff" stroke-width="3.4" stroke-linejoin="miter" paint-order="stroke"/>
<defs>
<linearGradient id="dlens" gradientUnits="userSpaceOnUse" x1="609.6" y1="0" x2="719" y2="0"><stop offset="0" stop-color="#c9cacb"/><stop offset="0.08" stop-color="#a3a4a5"/><stop offset="0.3" stop-color="#d3d4d5"/><stop offset="0.55" stop-color="#ebebeb"/><stop offset="0.8" stop-color="#dedede"/><stop offset="1" stop-color="#c9c9c9"/></linearGradient>
<linearGradient id="dbody" gradientUnits="userSpaceOnUse" x1="597.2" y1="0" x2="738.1" y2="0"><stop offset="0" stop-color="#d9dadb"/><stop offset="0.2" stop-color="#eaeaea"/><stop offset="0.48" stop-color="#fbfbfb"/><stop offset="0.7" stop-color="#e4e4e4"/><stop offset="1" stop-color="#bdbebf"/></linearGradient>
<linearGradient id="dcap" x1="0" y1="0" x2="1" y2="0"><stop offset="0" stop-color="#d2d3d4"/><stop offset="0.45" stop-color="#f4f4f4"/><stop offset="0.75" stop-color="#e6e6e6"/><stop offset="1" stop-color="#cfcfcf"/></linearGradient>
<linearGradient id="dback" x1="0" y1="0" x2="1" y2="0"><stop offset="0" stop-color="#c6c7c8"/><stop offset="0.6" stop-color="#d2d3d4"/><stop offset="1" stop-color="#bfc0c1"/></linearGradient>
<linearGradient id="dund" gradientUnits="userSpaceOnUse" x1="586" y1="0" x2="703.2" y2="0"><stop offset="0" stop-color="#9a9b9c"/><stop offset="0.5" stop-color="#c4c4c4"/><stop offset="1" stop-color="#9d9d9d"/></linearGradient>
<radialGradient id="dhole" cx="0.45" cy="0.55" r="0.6"><stop offset="0" stop-color="#777"/><stop offset="0.5" stop-color="#3c3c3c"/><stop offset="1" stop-color="#2a2a2a"/></radialGradient>
</defs>
<g id="det" stroke-linejoin="round">
<polygon points="504.8,1526.6 510.4,1514.2 547.6,1498.5 552.1,1515.4 557.8,1558.2 574.7,1652.9 597.2,1730.2 606.2,1836.1 574.7,1844 547.6,1839.5 517.2,1841.8 508.2,1833.9 505.2,1685.1" fill="url(#dback)" stroke="#111" stroke-width="2.2"/>
<polygon points="509.3,1522.6 539.7,1514.2 545.4,1525.5 509.3,1533.9" fill="#8d8e8f"/>
<polygon points="544.2,1673.8 554.4,1667.1 581.4,1707.6 597.2,1752.7 606.2,1833.9 574.7,1842.4 554.4,1833.9 547.6,1822.6 545.4,1752.7" fill="#858687"/>
<polygon points="535.9,1673.8 545.4,1670.4 547.6,1752.7 549.9,1820.3 555.5,1833.4 547.6,1831.6 540.9,1822.6 538.2,1752.7" fill="#bebfc0"/>
<path d="M545.4 1671.6 L547.6 1752.7 L549.9 1820.3 L555.5 1833.4" stroke="#e4e4e4" stroke-width="1.2" fill="none"/>
<polygon points="508.9,1833.9 513.8,1824.4 539.7,1824.4 547.6,1831.6 574.7,1842.9 547.6,1839.5 517.2,1841.8" fill="#a9aaab"/>
<path d="M509.3 1674.3 L540.9 1667.5" stroke="#fff" stroke-width="1.2" fill="none"/>
<ellipse cx="552.6" cy="1795.5" rx="10.1" ry="21.4" fill="#9d9e9f"/>
<rect x="547.6" y="1789.2" width="18" height="8.1" rx="3" fill="#e6e6e6"/>
<polygon points="554.4,1540.2 553.3,1544.7 551.8,1580 550.3,1609 557.6,1669.7 547,1677.4 542.2,1667 545.1,1638 548,1580" fill="#9a9b9c"/>
<polygon points="553.3,1544.7 557.8,1557.1 561.5,1580 567.3,1653.4 561,1659.2 575.5,1758.9 556.7,1751.2 552.8,1745 555.7,1738.3 563.4,1733.4 562.5,1726.7 553.8,1730 547,1677.4 557.6,1669.7 550.3,1609 551.8,1580" fill="#000"/>
<polygon points="554.4,1513.1 610.3,1504.1 622.7,1642.7 566.8,1656.9 557.8,1558.2" fill="#d9dadb"/>
<polygon points="609.6,1501.8 689.6,1506.4 699.8,1561.6 719.4,1654 622,1642.7" fill="url(#dlens)"/>
<path d="M548.8 1495.1 C581.4 1480.4 606.2 1474.3 624.3 1474.1 C660.3 1473.2 687.4 1482.7 702 1504.1 C712.2 1522.1 712.2 1544.7 699.1 1562 L689.6 1518.8 C660.3 1506.4 626.5 1504.1 609.6 1508.2 C588.2 1509.7 570.2 1513.1 554.8 1517.6 Z" fill="#9b9c9d"/>
<path d="M548.8 1495.1 C581.4 1480.4 606.2 1474.3 624.3 1474.1 C660.3 1473.2 687.4 1482.7 702 1504.1 C706.6 1512 708.8 1519.9 709.5 1526.6 C696.4 1504.1 660.3 1483.8 619.8 1484.9 C592.7 1487.2 570.2 1497.3 551.7 1508.2 Z" fill="url(#dcap)"/>
<path d="M566.8 1656.9 L557.8 1558.2 L552.1 1515.4 L548.8 1495.1 C581.4 1480.4 606.2 1474.3 624.3 1474.1 C660.3 1473.2 687.4 1482.7 702 1504.1 C712.2 1522.1 712.2 1544.7 699.1 1562 L719.4 1654" stroke="#111" stroke-width="2.2" fill="none"/>
<path d="M561.2 1660.3 C581.4 1651.3 606.2 1643.4 624.3 1641.8 C660.3 1640 694.2 1644.5 719.4 1653.5 L737 1673.8 C740.4 1707.6 734.7 1748.2 725.7 1786.5 C719 1813.6 712.2 1833.9 703.2 1853 L667.1 1859.8 L595 1826 L584.8 1813.6 L576.9 1775.3 Z" fill="url(#dbody)"/>
<polygon points="561.2,1660.3 598.3,1649.5 597.2,1730.2 595.4,1809.1 586,1813.6 576.9,1775.3" fill="#cbcccd"/>
<polygon points="586,1814 595.4,1809.1 696.4,1848.5 703.2,1853 667.1,1859.8 595,1826" fill="url(#dund)"/>
<path d="M719.4 1653.5 L737 1673.8 C740.4 1707.6 734.7 1748.2 725.7 1786.5 C719 1813.6 712.2 1833.9 703.2 1853 L667.1 1859.8 L595 1826 L584.8 1813.6 L576.9 1775.3 L561.2 1660.3" stroke="#111" stroke-width="2.2" fill="none"/>
<path d="M561.6 1660.7 C581.4 1651.7 606.2 1643.8 624.3 1642.3 C660.3 1640.5 694.2 1645 719.4 1654" stroke="#f2f2f2" stroke-width="1.5" opacity="0.9" fill="none"/>
<polygon points="653.6,1848.5 654.7,1855.3 660.3,1857.5 663.7,1853 667.1,1859.8 642.3,1856.4 642.3,1844" fill="#fff"/>
<path d="M642.3 1844 L653.6 1848.5 L654.7 1855.3 L660.3 1857.5 L663.7 1851.9 L666 1854.2 L663.7 1859.1 L667.1 1859.8" stroke="#111" stroke-width="1.6" fill="none"/>
<ellipse cx="722.3" cy="1731.3" rx="10.8" ry="20.7" fill="#e9e9e9" transform="rotate(8 722.3 1731.3)"/>
<ellipse cx="719.4" cy="1733.6" rx="8.1" ry="16.7" fill="url(#dhole)" transform="rotate(8 719.4 1733.6)"/>
<ellipse cx="707.7" cy="1797.1" rx="7.2" ry="13.1" fill="#e4e4e4" transform="rotate(14 707.7 1797.1)"/>
<ellipse cx="704.3" cy="1798.3" rx="4.5" ry="11.3" fill="#3a3a3a" transform="rotate(14 704.3 1798.3)"/>
<polygon points="583.3,1870.5 599.2,1857.2 613.4,1839.5 641.7,1844.8 639.9,1855.4 646.1,1864.3 645.3,1867.8 637.3,1873.1 606.3,1872.3" fill="#8b8c8d" stroke="#111" stroke-width="1.4"/>
<ellipse cx="619.6" cy="1864.3" rx="7.4" ry="3.9" fill="#555" stroke="#111" stroke-width="1"/>
<path d="M613.4 1864.3 L625.8 1864.3" stroke="#111" stroke-width="1" fill="none"/>
<path d="M619.6 1861.1 L619.6 1867.5" stroke="#111" stroke-width="1" fill="none"/>
<ellipse cx="620.5" cy="1854.5" rx="7.1" ry="2.1" fill="#d8d8d8" stroke="#222" stroke-width="0.8"/>
<polygon points="617.8,1851.9 620.5,1846.2 623.1,1851.9" fill="#b0b0b0" stroke="#222" stroke-width="0.8"/>
</g>
<path d="M593.5 1829.2 L612 1836.8 C608.1 1855.4 588.6 1871.4 559.3 1871.4 L551.9 1884.7 L520.9 1843 L573.5 1835.1 L568.7 1850.1 C581.5 1848.3 590.3 1841.3 593.5 1829.2 Z" fill="#0099cc" stroke="#fff" stroke-width="3" paint-order="stroke" stroke-linejoin="miter"/>
<g id="screw" stroke-linejoin="round">
<polygon points="613.4,1879.3 622.2,1879.3 628.4,1905 628.4,2014.9 607.2,2014.9 607.2,1905" fill="#fff" stroke="#222" stroke-width="1.3"/>
<path d="M610.7 1921 L616.9 1883.8 L624 1921" stroke="#444" stroke-width="0.9" fill="none"/>
<path d="M613.4 1919.2 L617.8 1897.9 L622.2 1919.2" stroke="#444" stroke-width="0.9" fill="none"/>
<path d="M607.7 1921.9 L613.4 1919.2" stroke="#444" stroke-width="0.9" fill="none"/>
<path d="M622.2 1919.2 L627.9 1921.9" stroke="#444" stroke-width="0.9" fill="none"/>
<path d="M593.3 2033 C588.4 2029 588.4 2019.3 592.5 2015.8 C603.7 2008.9 632.7 2008.9 644 2017.4 C648 2022.5 647.2 2029 642.7 2034.1 C641.1 2041.9 641.1 2049.9 643.2 2056.4 C658.5 2077.3 667.3 2099.8 667.3 2119.2 C667.3 2138.5 661.7 2154.6 652.4 2167.8 C642.4 2178.7 629.5 2182.8 616.6 2182.8 C603.7 2182.8 590.9 2178.7 581.7 2167.8 C572.3 2151.4 568 2135.3 568.3 2119.2 C568.3 2099.8 578 2075.7 592.5 2056.4 C594.4 2049.9 594.4 2040.3 593.3 2033 Z" fill="#808080" stroke="#111" stroke-width="1.8"/>
<path d="M590.5 2028.2 C603.7 2017.7 632.7 2017.7 645.3 2026.6" stroke="#111" stroke-width="1.3" fill="none"/>
<path d="M593.3 2051.9 C607 2040.3 629.5 2040.3 642.4 2051.9" stroke="#111" stroke-width="1.3" fill="none"/>
<path d="M581.7 2167.8 C584.4 2140.1 650.4 2140.1 652.4 2167.8" stroke="#111" stroke-width="1.3" fill="none"/>
</g>
<path d="M588.6 2017 C567.3 2007.8 558.5 1993.6 559.3 1977.7 C560.2 1958.2 574.4 1944 595.7 1942.8 C609.8 1942.2 622.2 1946.7 632.9 1952 L639.9 1936 L675.4 1977.7 L620.5 1987.4 L624.9 1971.5 C615.1 1967 604.5 1963.8 595.7 1964.4 C586.8 1965.3 580.6 1972.3 580.6 1980.3 C581.1 1988.3 586.8 1993.6 595.7 1996.6 Z" fill="#0099cc"/>
<path d="M607.2 1967 L607.2 2013.1" stroke="#222" stroke-width="1.3" fill="none"/>
<path d="M628.4 1988.3 L628.4 2013.1" stroke="#222" stroke-width="1.3" fill="none"/>
<circle cx="561.5" cy="2043.2" r="18.7" stroke="#0099cc" stroke-width="2.8" fill="#fff"/>
<polygon points="557.8,2030.6 565.1,2030.6 565.1,2039.5 573.9,2039.5 573.9,2046.7 565.1,2046.7 565.1,2055.6 557.8,2055.6 557.8,2046.7 549,2046.7 549,2039.5 557.8,2039.5" stroke="#0099cc" stroke-width="1.3" fill="none"/>
</svg>
<svg class="art" viewBox="0 0 1242 2208" style="pointer-events:none">
  <path d="M0 0 H18 A18 18 0 0 0 0 18 Z" fill="#000"/>
  <path d="M1242 0 H1224 A18 18 0 0 1 1242 18 Z" fill="#000"/>
  <path d="M0 2208 H18 A18 18 0 0 1 0 2190 Z" fill="#000"/>
  <path d="M1242 2208 H1224 A18 18 0 0 0 1242 2190 Z" fill="#000"/>
</svg>
</body>
</html>
